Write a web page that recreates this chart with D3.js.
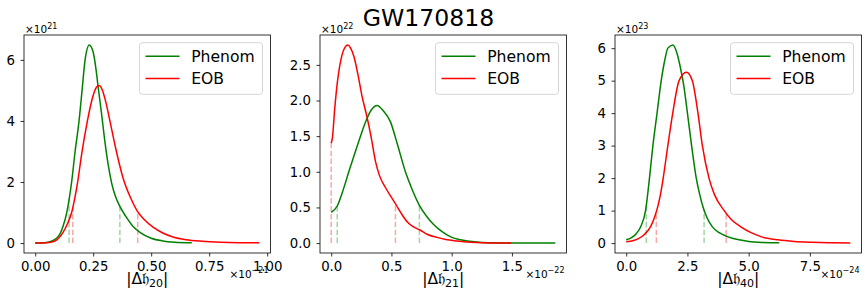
<!DOCTYPE html>
<html>
<head>
<meta charset="utf-8">
<script src="https://cdn.jsdelivr.net/npm/d3@7"></script>
<style>
  body { margin: 0; background: #fff; }
  svg { display: block; }
  text { font-family: "DejaVu Sans", sans-serif; fill: #000; }
</style>
</head>
<body>
<div id="chart"></div>
<script>
// ---- data ----
const title = "GW170818";
const seriesNames = ["Phenom", "EOB"];
const seriesColors = ["green", "red"];

// |Δh20|  (x in 1e-21, y in 1e21)
const h20PhenomX = [0, 0.04, 0.07, 0.09, 0.107, 0.12, 0.136, 0.157, 0.172, 0.189, 0.202, 0.215, 0.233, 0.25, 0.262, 0.272, 0.285, 0.30, 0.315, 0.33, 0.345, 0.365, 0.39, 0.42, 0.45, 0.50, 0.55, 0.60, 0.675];
const h20PhenomY = [0, 0.01, 0.06, 0.15, 0.3, 0.55, 1.0, 2.0, 3.0, 4.0, 5.0, 6.0, 6.49, 6.25, 5.7, 5.07, 4.3, 3.35, 2.55, 1.95, 1.55, 1.2, 0.88, 0.56, 0.36, 0.16, 0.07, 0.03, 0.01];
const h20EobX = [0, 0.05, 0.08, 0.10, 0.12, 0.14, 0.157, 0.17, 0.183, 0.20, 0.225, 0.245, 0.26, 0.275, 0.29, 0.305, 0.322, 0.35, 0.378, 0.41, 0.44, 0.47, 0.508, 0.55, 0.594, 0.65, 0.72, 0.80, 0.88, 0.966];
const h20EobY = [0, 0.01, 0.05, 0.15, 0.35, 0.65, 1.0, 1.45, 2.0, 2.9, 4.0, 4.7, 5.05, 5.16, 5.0, 4.6, 4.0, 3.0, 2.15, 1.5, 1.05, 0.77, 0.52, 0.33, 0.2, 0.11, 0.06, 0.03, 0.015, 0.01];
const h20PhenomBounds = [0.146, 0.365];
const h20EobBounds = [0.162, 0.442];

// |Δh21|  (x in 1e-22, y in 1e22)
const h21PhenomX = [0, 0.05, 0.10, 0.146, 0.20, 0.243, 0.29, 0.33, 0.381, 0.43, 0.492, 0.547, 0.616, 0.67, 0.732, 0.79, 0.85, 0.92, 0.988, 1.06, 1.13, 1.25, 1.4, 1.86];
const h21PhenomY = [0.43, 0.52, 0.75, 1.0, 1.28, 1.5, 1.72, 1.86, 1.93, 1.86, 1.70, 1.40, 1.0, 0.76, 0.53, 0.38, 0.26, 0.16, 0.09, 0.05, 0.03, 0.01, 0.003, 0];
const h21EobX = [0, 0.01, 0.03, 0.05, 0.07, 0.09, 0.115, 0.138, 0.16, 0.188, 0.22, 0.257, 0.293, 0.33, 0.367, 0.40, 0.45, 0.50, 0.541, 0.58, 0.63, 0.68, 0.74, 0.80, 0.878, 0.95, 1.044, 1.2, 1.495];
const h21EobY = [1.40, 1.48, 1.9, 2.24, 2.48, 2.64, 2.75, 2.78, 2.74, 2.62, 2.38, 2.05, 1.8, 1.5, 1.15, 0.95, 0.78, 0.64, 0.53, 0.42, 0.3, 0.23, 0.18, 0.12, 0.08, 0.05, 0.03, 0.01, 0];
const h21PhenomBounds = [0.05, 0.732];
const h21EobBounds = [0.0, 0.533];

// |Δh40|  (x in 1e-24, y in 1e23)
const h40PhenomX = [0, 0.2, 0.4, 0.6, 0.79, 0.95, 1.09, 1.26, 1.43, 1.58, 1.70, 1.91, 2.05, 2.2, 2.36, 2.50, 2.67, 2.86, 3.0, 3.15, 3.3, 3.52, 3.8, 4.13, 4.6, 5.0, 5.6, 6.25];
const h40PhenomY = [0.10, 0.16, 0.28, 0.52, 1.0, 2.0, 3.0, 4.0, 5.0, 5.65, 6.0, 6.1, 5.9, 5.45, 4.8, 4.0, 3.0, 2.0, 1.5, 1.08, 0.78, 0.5, 0.32, 0.2, 0.1, 0.05, 0.02, 0.01];
const h40EobX = [0, 0.3, 0.5, 0.72, 0.99, 1.15, 1.28, 1.4, 1.51, 1.70, 1.90, 2.16, 2.46, 2.70, 2.93, 3.11, 3.38, 3.6, 4.0, 4.3, 4.68, 5.1, 5.5, 6.2, 6.86, 7.6, 8.4, 9.15];
const h40EobY = [0.04, 0.08, 0.14, 0.25, 0.5, 0.78, 1.1, 1.5, 2.0, 3.0, 4.0, 5.0, 5.26, 5.0, 4.0, 3.0, 2.0, 1.5, 1.0, 0.72, 0.5, 0.32, 0.2, 0.1, 0.05, 0.025, 0.01, 0];
const h40PhenomBounds = [0.82, 3.18];
const h40EobBounds = [1.23, 4.08];

// tick labels / exponents
const h20XTicks = [0, 0.25, 0.5, 0.75, 1.0];
const h20YTicks = [0, 2, 4, 6];
const h21XTicks = [0, 0.5, 1.0, 1.5];
const h21YTicks = [0, 0.5, 1.0, 1.5, 2.0, 2.5];
const h40XTicks = [0, 2.5, 5.0, 7.5];
const h40YTicks = [0, 1, 2, 3, 4, 5, 6];

// ---- layout ----
const W = 868, H = 305;
const axTop = 35, axBottom = 253, axW = 246.5;

const panels = [
  { sub: "20", left: 24, xExp: "−21", yExp: "21",
    series: [[h20PhenomX, h20PhenomY, h20PhenomBounds], [h20EobX, h20EobY, h20EobBounds]],
    xTicks: h20XTicks, yTicks: h20YTicks, xFmt: d3.format(".2f"), yFmt: d3.format("d") },
  { sub: "21", left: 320, xExp: "−22", yExp: "22",
    series: [[h21PhenomX, h21PhenomY, h21PhenomBounds], [h21EobX, h21EobY, h21EobBounds]],
    xTicks: h21XTicks, yTicks: h21YTicks, xFmt: d3.format(".1f"), yFmt: d3.format(".1f") },
  { sub: "40", left: 615, xExp: "−24", yExp: "23",
    series: [[h40PhenomX, h40PhenomY, h40PhenomBounds], [h40EobX, h40EobY, h40EobBounds]],
    xTicks: h40XTicks, yTicks: h40YTicks, xFmt: d3.format(".1f"), yFmt: d3.format("d") }
];

const svg = d3.select("#chart").append("svg").attr("width", W).attr("height", H);
svg.append("rect").attr("width", W).attr("height", H).attr("fill", "#fff");

// matplotlib-like 5% margins
function padded(lo, hi) {
  const m = (hi - lo) * 0.05;
  return [lo - m, hi + m];
}
function interp(xs, ys, x) {
  const i = d3.bisectRight(xs, x);
  if (i <= 0) return ys[0];
  if (i >= xs.length) return ys[ys.length - 1];
  const t = (x - xs[i - 1]) / (xs[i] - xs[i - 1]);
  return ys[i - 1] + t * (ys[i] - ys[i - 1]);
}

panels.forEach(p => {
  const right = p.left + axW;
  const allX = p.series.flatMap(s => s[0]);
  const allY = p.series.flatMap(s => s[1]);
  const x = d3.scaleLinear().domain(padded(d3.min(allX), d3.max(allX))).range([p.left, right]);
  const y = d3.scaleLinear().domain(padded(d3.min(allY), d3.max(allY))).range([axBottom, axTop]);

  const g = svg.append("g");

  // credible-interval dashes
  p.series.forEach((s, k) => {
    s[2].forEach(q => {
      g.append("line")
        .attr("x1", x(q)).attr("x2", x(q))
        .attr("y1", y(0)).attr("y2", y(interp(s[0], s[1], q)))
        .attr("stroke", seriesColors[k]).attr("stroke-opacity", 0.35)
        .attr("stroke-width", 1.5).attr("stroke-dasharray", "5.5,2.4");
    });
  });

  // curves
  p.series.forEach((s, k) => {
    const line = d3.line().x(d => x(d[0])).y(d => y(d[1])).curve(d3.curveMonotoneX);
    g.append("path")
      .attr("d", line(d3.zip(s[0], s[1])))
      .attr("fill", "none").attr("stroke", seriesColors[k]).attr("stroke-width", 1.5);
  });

  // axes
  const ax = g.append("g").attr("transform", `translate(0,${axBottom})`)
    .call(d3.axisBottom(x).tickValues(p.xTicks).tickFormat(p.xFmt).tickSize(3.5).tickPadding(5.5));
  const ay = g.append("g").attr("transform", `translate(${p.left},0)`)
    .call(d3.axisLeft(y).tickValues(p.yTicks).tickFormat(p.yFmt).tickSize(3.5).tickPadding(5.5));
  [ax, ay].forEach(a => {
    a.select(".domain").remove();
    a.selectAll("line").attr("stroke", "#000").attr("stroke-width", 0.8);
    a.selectAll("text").attr("font-size", 13.3).attr("font-family", "DejaVu Sans").attr("fill", "#000");
  });

  // frame
  g.append("rect").attr("x", p.left).attr("y", axTop).attr("width", axW).attr("height", axBottom - axTop)
    .attr("fill", "none").attr("stroke", "#000").attr("stroke-width", 0.8);

  // offset texts
  const yo = g.append("text").attr("x", p.left + 1).attr("y", 33).attr("font-size", 10.5);
  yo.append("tspan").text("×10");
  yo.append("tspan").attr("dy", -4.5).attr("font-size", 8).text(p.yExp);

  const xo = g.append("text").attr("x", right - 2).attr("y", 277.5).attr("font-size", 10.5).attr("text-anchor", "end");
  xo.append("tspan").text("×10");
  xo.append("tspan").attr("dy", -4.5).attr("font-size", 8).text(p.xExp);

  // x label
  const lab = g.append("text").attr("x", (p.left + right) / 2).attr("y", 284)
    .attr("font-size", 15.6).attr("text-anchor", "middle");
  lab.append("tspan").text("|Δ𝔥");
  lab.append("tspan").attr("dy", 2.5).attr("font-size", 11).text(p.sub);
  lab.append("tspan").attr("dy", -2.5).text("|");

  // legend
  const lx = right - 8 - 123, ly = axTop + 7.7;
  const lg = g.append("g");
  lg.append("rect").attr("x", lx).attr("y", ly).attr("width", 123).attr("height", 51.6)
    .attr("rx", 3).attr("fill", "#fff").attr("fill-opacity", 0.8)
    .attr("stroke", "#d5d5d5").attr("stroke-width", 1);
  seriesNames.forEach((name, k) => {
    const ry = ly + 13.5 + k * 22.3;
    lg.append("line").attr("x1", lx + 6).attr("x2", lx + 40).attr("y1", ry).attr("y2", ry)
      .attr("stroke", seriesColors[k]).attr("stroke-width", 1.5);
    lg.append("text").attr("x", lx + 51.7).attr("y", ry + 5.6).attr("font-size", 15.6).text(name);
  });
});

// title
svg.append("text").attr("x", 428.5).attr("y", 26).attr("font-size", 23.6)
  .attr("text-anchor", "middle").text(title);
</script>
</body>
</html>
